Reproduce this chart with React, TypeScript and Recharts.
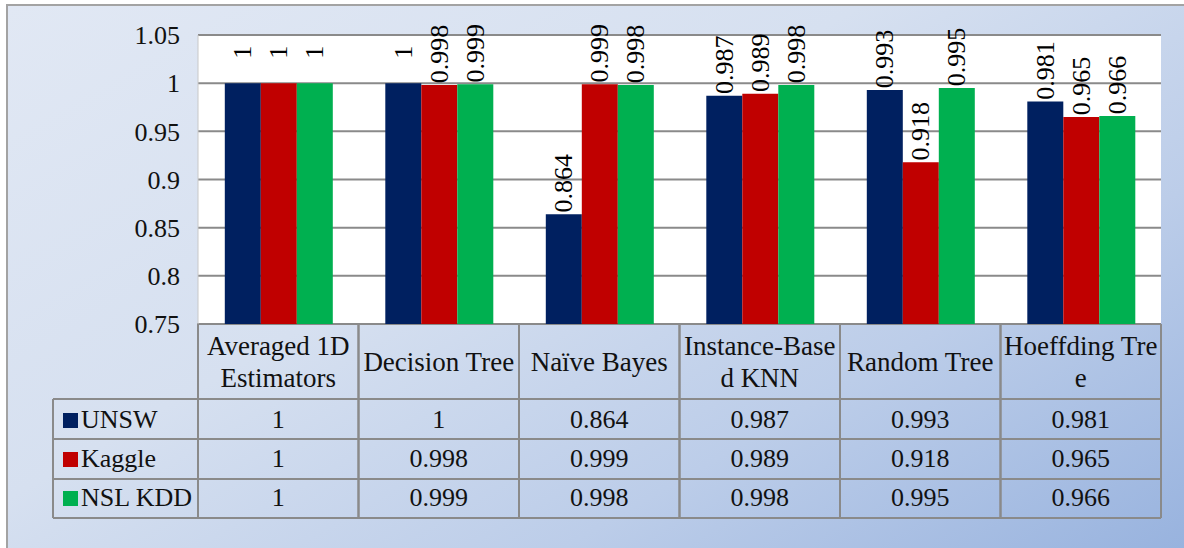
import React from 'react';
import { BarChart, Bar, XAxis, YAxis, CartesianGrid, LabelList, Customized } from 'recharts';

const categories = ['Averaged 1D Estimators', 'Decision Tree', 'Naïve Bayes', 'Instance-Based KNN', 'Random Tree', 'Hoeffding Tree'];
const headerLines = [['Averaged 1D', 'Estimators'], ['Decision Tree'], ['Naïve Bayes'], ['Instance-Base', 'd KNN'], ['Random Tree'], ['Hoeffding Tre', 'e']];
const unsw = [1, 1, 0.864, 0.987, 0.993, 0.981];
const kaggle = [1, 0.998, 0.999, 0.989, 0.918, 0.965];
const nslKdd = [1, 0.999, 0.998, 0.998, 0.995, 0.966];
const seriesNames = ['UNSW', 'Kaggle', 'NSL KDD'];
const seriesKeys = ['unsw', 'kaggle', 'nsl'];
const seriesColors = ['#002060', '#C00000', '#00B050'];
const yTicks = [0.75, 0.8, 0.85, 0.9, 0.95, 1, 1.05];

const data = categories.map((c, i) => ({ name: c, idx: i, unsw: unsw[i], kaggle: kaggle[i], nsl: nslKdd[i] }));
const seriesValues = [unsw, kaggle, nslKdd];

const W = 1184;
const H = 548;
const PLOT_LEFT = 198;
const PLOT_RIGHT = 1161;
const PLOT_TOP = 35;
const PLOT_BOTTOM = 324;
const COL_W = (PLOT_RIGHT - PLOT_LEFT) / categories.length;
const ROW_LINES = [399, 439, 479, 518];
const LEGEND_LEFT = 53;
const FONT = 'Liberation Serif';
const LINE = '#8a8a8a';
const FS = 26;
const TXT: React.CSSProperties = { fontFamily: FONT, fontSize: FS };
const HDR: React.CSSProperties = { fontFamily: FONT, fontSize: 27 };

const fmt = (v: number) => String(Number(v.toFixed(3)));

const ColumnTick = (props: any) => {
  const { x, payload } = props;
  const i = payload.index ?? categories.indexOf(payload.value);
  const lines = headerLines[i];
  const x0 = x - COL_W / 2;
  const x1 = x + COL_W / 2;
  const headerBaselines = lines.length === 2 ? [355, 387] : [371];
  const valueBaselines = [428, 467, 506];
  return (
    <g>
      <line x1={x0} y1={PLOT_BOTTOM} x2={x0} y2={ROW_LINES[3]} stroke={LINE} strokeWidth={2} />
      <line x1={x1} y1={PLOT_BOTTOM} x2={x1} y2={ROW_LINES[3]} stroke={LINE} strokeWidth={2} />
      {lines.map((t, k) => (
        <text key={k} x={x} y={headerBaselines[k]} textAnchor="middle" style={HDR} fill="#111">{t}</text>
      ))}
      {seriesValues.map((vals, k) => (
        <text key={'v' + k} x={x} y={valueBaselines[k]} textAnchor="middle" style={TXT} fill="#111">{fmt(vals[i])}</text>
      ))}
    </g>
  );
};

const TableFrame = () => {
  const baselines = [428, 467, 506];
  return (
    <g>
      <line x1={PLOT_LEFT - 1} y1={PLOT_BOTTOM} x2={PLOT_RIGHT} y2={PLOT_BOTTOM} stroke={LINE} strokeWidth={2} />
      {ROW_LINES.map((y, k) => (
        <line key={k} x1={LEGEND_LEFT} y1={y} x2={PLOT_RIGHT} y2={y} stroke={LINE} strokeWidth={2} />
      ))}
      <line x1={LEGEND_LEFT} y1={ROW_LINES[0]} x2={LEGEND_LEFT} y2={ROW_LINES[3]} stroke={LINE} strokeWidth={2} />
      {seriesNames.map((n, k) => (
        <g key={n}>
          <rect x={63} y={baselines[k] - 15} width={15} height={15} fill={seriesColors[k]} />
          <text x={81} y={baselines[k]} style={TXT} fill="#111">{n}</text>
        </g>
      ))}
    </g>
  );
};

const RotatedLabel = (props: any) => {
  const { x, y, width, value } = props;
  const cx = x + width / 2;
  const cy = y - 31;
  return (
    <text
      x={cx}
      y={cy}
      transform={`rotate(-90 ${cx} ${cy})`}
      textAnchor="middle"
      dominantBaseline="central"
      style={{ fontFamily: FONT, fontSize: 26 }}
      fill="#000"
    >
      {fmt(value)}
    </text>
  );
};

export default function App() {
  return (
    <div style={{ position: 'absolute', left: 0, top: 0, width: W, height: H, background: '#fff', overflow: 'hidden', fontFamily: FONT }}>
      <div
        style={{
          position: 'absolute',
          left: 6,
          top: 4,
          width: W,
          height: H,
          border: '2px solid #a3a3a3',
          background: 'linear-gradient(150deg, #e1e8f4 0%, #d6e0f0 40%, #bccde9 70%, #97b2de 100%)',
        }}
      />
      <div style={{ position: 'absolute', left: 0, top: 0 }}>
        <BarChart
          width={W}
          height={H}
          data={data}
          margin={{ top: PLOT_TOP, right: W - PLOT_RIGHT, bottom: 0, left: 0 }}
          barCategoryGap="16.7%"
          barGap={0}
          style={{ fontFamily: FONT }}
        >
          <CartesianGrid vertical={false} stroke={LINE} strokeWidth={2} fill="#ffffff" />
          <YAxis
            width={PLOT_LEFT}
            domain={[0.75, 1.05]}
            ticks={yTicks}
            tickFormatter={(v: number) => fmt(v)}
            axisLine={{ stroke: '#c8c8c8', strokeWidth: 1 }}
            tickLine={false}
            tickMargin={12}
            tick={{ fontSize: FS, fill: '#111', style: { fontFamily: FONT, fontSize: FS } }}
            allowDataOverflow
          />
          <XAxis
            dataKey="name"
            height={H - PLOT_BOTTOM}
            axisLine={false}
            tickLine={false}
            interval={0}
            tick={<ColumnTick />}
          />
          {seriesKeys.map((k, i) => (
            <Bar key={k} dataKey={k} fill={seriesColors[i]} isAnimationActive={false}>
              <LabelList dataKey={k} content={<RotatedLabel />} />
            </Bar>
          ))}
          <Customized component={<TableFrame />} />
        </BarChart>
      </div>
    </div>
  );
}
